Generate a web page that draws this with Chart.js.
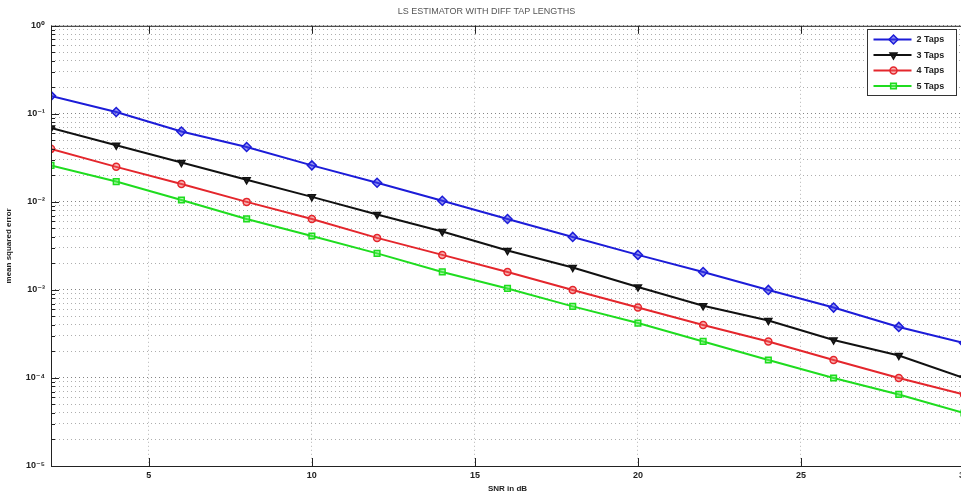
<!DOCTYPE html>
<html>
<head>
<meta charset="utf-8">
<title>LS estimator MSE</title>
<script src="https://cdn.jsdelivr.net/npm/chart.js@4/dist/chart.umd.min.js"></script>
<style>
  html, body { margin: 0; padding: 0; background: #fff; overflow: hidden; }
  #wrap { position: relative; width: 973px; height: 495px; }
</style>
</head>
<body>
<div id="wrap"><canvas id="mseChart"></canvas></div>
<script>
// SNR sweep (dB) and mean squared error per channel tap count
const snr = [2, 4, 6, 8, 10, 12, 14, 16, 18, 20, 22, 24, 26, 28, 30];
const taps2 = [0.16, 0.105, 0.063, 0.042, 0.026, 0.0165, 0.0103, 0.0064, 0.004, 0.0025, 0.0016, 0.001, 0.00063, 0.00038, 0.00025];
const taps3 = [0.069, 0.044, 0.028, 0.0178, 0.0114, 0.0072, 0.0046, 0.0028, 0.0018, 0.00108, 0.00066, 0.00045, 0.00027, 0.00018, 0.0001];
const taps4 = [0.04, 0.025, 0.016, 0.01, 0.0064, 0.0039, 0.0025, 0.0016, 0.001, 0.00063, 0.0004, 0.00026, 0.00016, 0.0001, 0.000065];
const taps5 = [0.026, 0.017, 0.0105, 0.0064, 0.0041, 0.0026, 0.0016, 0.00104, 0.00065, 0.00042, 0.00026, 0.00016, 0.0001, 0.000065, 0.00004];

const seriesNames = ['2 Taps', '3 Taps', '4 Taps', '5 Taps'];
const xTicks = [5, 10, 15, 20, 25, 30];
const decadeExps = [-5, -4, -3, -2, -1, 0];

const SUP = { '0': '\u2070', '1': '\u00b9', '2': '\u00b2', '3': '\u00b3', '4': '\u2074', '5': '\u2075', '-': '\u207b' };
const sup = s => String(s).split('').map(c => SUP[c] || c).join('');

const FONT = '"Liberation Sans", Arial, "DejaVu Sans", sans-serif';

const toPoints = arr => snr.map((s, i) => ({ x: s, y: arr[i] }));

const styles = [
  { color: '#1c1cd8', fill: 'rgba(60,60,230,0.55)', pointStyle: 'rectRot', rotation: 0, radius: 4.5 },
  { color: '#111111', fill: 'rgba(20,20,20,0.85)', pointStyle: 'triangle', rotation: 180, radius: 4 },
  { color: '#e4262c', fill: 'rgba(240,90,90,0.45)', pointStyle: 'circle', rotation: 0, radius: 3.5 },
  { color: '#1fdc1f', fill: 'rgba(90,240,90,0.5)', pointStyle: 'rect', rotation: 0, radius: 4 }
];

const datasets = [taps2, taps3, taps4, taps5].map((arr, i) => ({
  label: seriesNames[i],
  data: toPoints(arr),
  borderColor: styles[i].color,
  backgroundColor: styles[i].fill,
  borderWidth: 2,
  pointStyle: styles[i].pointStyle,
  rotation: styles[i].rotation,
  pointRadius: styles[i].radius,
  pointBorderWidth: 1.5,
  pointBorderColor: styles[i].color,
  pointBackgroundColor: styles[i].fill,
  tension: 0,
  fill: false
}));

// box around the axes plus inward tick marks, matlab style
const axesFrame = {
  id: 'axesFrame',
  afterDatasetsDraw(chart) {
    const { ctx, chartArea: a, scales } = chart;
    ctx.save();
    ctx.strokeStyle = '#222';
    ctx.lineWidth = 1;
    ctx.strokeRect(a.left + 0.5, a.top + 0.5, a.right - a.left, a.bottom - a.top);
    ctx.beginPath();
    scales.x.ticks.forEach(t => {
      const px = Math.round(scales.x.getPixelForValue(t.value)) + 0.5;
      ctx.moveTo(px, a.bottom); ctx.lineTo(px, a.bottom - 8);
      ctx.moveTo(px, a.top); ctx.lineTo(px, a.top + 8);
    });
    scales.y.ticks.forEach(t => {
      const py = Math.round(scales.y.getPixelForValue(t.value)) + 0.5;
      const major = Math.abs(Math.log10(t.value) - Math.round(Math.log10(t.value))) < 1e-6;
      ctx.moveTo(a.left, py); ctx.lineTo(a.left + (major ? 8 : 4), py);
    });
    ctx.stroke();
    ctx.restore();
  }
};

// legend box with line + marker samples in the upper right corner
const legendBox = {
  id: 'legendBox',
  afterDraw(chart) {
    const { ctx, chartArea: a } = chart;
    const w = 89, rowH = 15.5, h = 66;
    const x0 = Math.round(a.right - 97) + 0.5, y0 = Math.round(a.top + 3) + 0.5;
    ctx.save();
    ctx.fillStyle = '#fff';
    ctx.fillRect(x0, y0, w, h);
    ctx.strokeStyle = '#333';
    ctx.lineWidth = 1;
    ctx.strokeRect(x0, y0, w, h);
    chart.data.datasets.forEach((ds, i) => {
      const y = y0 + 10 + i * rowH;
      ctx.strokeStyle = ds.borderColor;
      ctx.lineWidth = 2;
      ctx.beginPath();
      ctx.moveTo(x0 + 6, y); ctx.lineTo(x0 + 44, y);
      ctx.stroke();
      ctx.fillStyle = ds.pointBackgroundColor;
      ctx.strokeStyle = ds.pointBorderColor;
      ctx.lineWidth = 1.5;
      Chart.helpers.drawPoint(ctx, {
        pointStyle: ds.pointStyle, rotation: ds.rotation, radius: ds.pointRadius, borderWidth: 1.5
      }, x0 + 26, y);
      ctx.fillStyle = '#222';
      ctx.font = 'bold 9px ' + FONT;
      ctx.textBaseline = 'middle';
      ctx.fillText(ds.label, x0 + 49, y + 0.5);
    });
    ctx.restore();
  }
};

const isDecade = v => Math.abs(Math.log10(v) - Math.round(Math.log10(v))) < 1e-6;

const ctx = document.getElementById('mseChart').getContext('2d');
const mseChart = new Chart(ctx, {
  type: 'line',
  data: { datasets },
  options: {
    responsive: true,
    maintainAspectRatio: false,
    animation: false,
    layout: { padding: { left: 0, right: 0, top: 0, bottom: 0 } },
    plugins: {
      legend: { display: false },
      tooltip: { enabled: false },
      title: {
        display: true,
        text: 'LS ESTIMATOR WITH DIFF TAP LENGTHS',
        color: '#555',
        font: { family: FONT, size: 9, weight: 'normal' },
        padding: { top: 6, bottom: 9 }
      }
    },
    scales: {
      x: {
        type: 'linear',
        min: 2,
        max: 30,
        afterBuildTicks: scale => { scale.ticks = xTicks.map(v => ({ value: v })); },
        afterFit: scale => { scale.height = 29; },
        grid: {
          drawTicks: false,
          color: 'rgba(120,120,120,0.55)',
          lineWidth: 1
        },
        border: { display: false, dash: [1, 3] },
        ticks: {
          color: '#222',
          padding: 4,
          maxRotation: 0,
          font: { family: FONT, size: 9, weight: 'bold' }
        },
        title: {
          display: true,
          text: 'SNR in dB',
          color: '#222',
          font: { family: FONT, size: 8, weight: 'bold' },
          padding: { top: 0, bottom: 1 }
        }
      },
      y: {
        type: 'logarithmic',
        min: 1e-5,
        max: 1,
        afterBuildTicks: scale => {
          const t = [];
          decadeExps.forEach(e => {
            for (let m = 1; m <= 9; m++) {
              const v = m * Math.pow(10, e);
              if (v <= 1 + 1e-9) t.push({ value: v });
            }
          });
          scale.ticks = t;
        },
        afterFit: scale => { scale.width = 51; },
        grid: {
          drawTicks: false,
          color: c => isDecade(c.tick.value) ? 'rgba(90,90,90,0.75)' : 'rgba(120,120,120,0.6)',
          lineWidth: 1
        },
        border: { display: false, dash: [1, 3] },
        ticks: {
          color: '#222',
          padding: 6,
          autoSkip: false,
          font: { family: FONT, size: 9, weight: 'bold' },
          callback: v => isDecade(v) ? '10' + sup(Math.round(Math.log10(v))) : ''
        },
        title: {
          display: true,
          text: 'mean squared error',
          color: '#222',
          font: { family: FONT, size: 8, weight: 'bold' },
          padding: { top: 4, bottom: 0 }
        }
      }
    }
  },
  plugins: [axesFrame, legendBox]
});
</script>
</body>
</html>
